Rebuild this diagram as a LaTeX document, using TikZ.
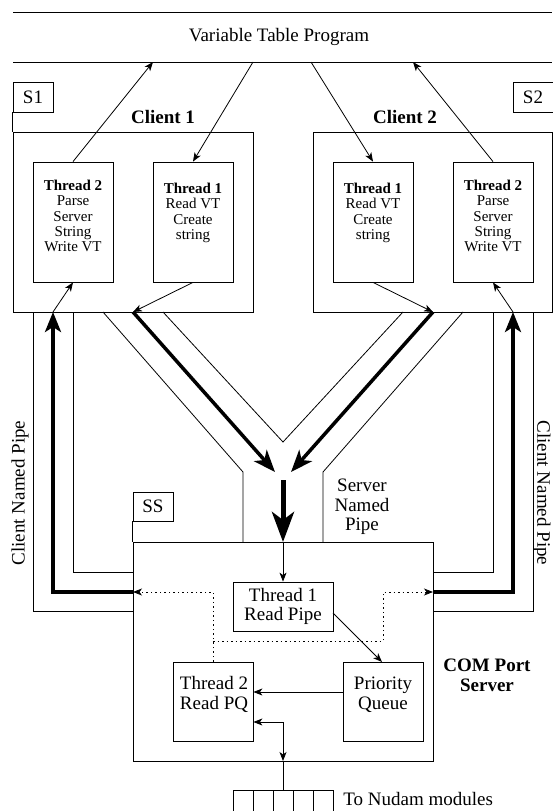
\documentclass[tikz,border=0pt]{standalone}
\usepackage{fontspec}
\setmainfont{Liberation Serif}
\usetikzlibrary{arrows.meta}
\begin{document}
\begin{tikzpicture}[x=1pt,y=-1pt,
  line width=0.8pt,
  box/.style={draw, line width=0.8pt, inner sep=0pt},
  txt/.style={inner sep=0pt, align=center, font=\fontsize{19}{19.5}\selectfont},
  btxt/.style={inner sep=0pt, align=center, font=\fontsize{19}{20}\selectfont\bfseries},
  ttxt/.style={inner sep=0pt, align=center, font=\fontsize{15}{15.3}\selectfont},
  tarrow/.style={-{Stealth[length=9pt,width=7pt,inset=2.5pt]}, line width=0.8pt},
  darrow/.style={{Stealth[length=9pt,width=7pt,inset=2.5pt]}-{Stealth[length=9pt,width=7pt,inset=2.5pt]}, line width=0.8pt},
  diagthick/.style={-{Stealth[length=22pt,width=17pt,inset=6pt]}, line width=3.5pt},
  pipethick/.style={-{Stealth[length=20pt,width=16pt,inset=5pt]}, line width=3.5pt},
  centerthick/.style={-{Stealth[length=30pt,width=22pt,inset=8pt]}, line width=5pt},
  dotarrow/.style={dash pattern=on 1.5pt off 3pt, -{Stealth[length=9pt,width=7pt,inset=2.5pt]}, line width=0.8pt},
]
\useasboundingbox (0,0) rectangle (552,811);

% Variable Table Program
\coordinate (vtl) at (13,12);
\coordinate (vtr) at (552,12);
\coordinate (vbl) at (13,62);
\coordinate (vbr) at (552,62);
\draw (vtl) -- (vtr);
\draw (vbl) -- (vbr);
\node[txt] (vtp) at (279,37) {Variable Table Program};
\coordinate (vt1) at (153,62);
\coordinate (vt2) at (253,62);
\coordinate (vt3) at (311,62);
\coordinate (vt4) at (413,62);

% S1 / S2 tabs
\node[box, minimum width=40pt, minimum height=30pt, font=\fontsize{19}{20}\selectfont] (s1) at (33,97) {S1};
\node[box, minimum width=40pt, minimum height=30pt, font=\fontsize{19}{20}\selectfont] (s2) at (533,97) {S2};

% Client boxes
\node[box, minimum width=240pt, minimum height=180pt] (c1) at (133,222) {};
\node[box, minimum width=239pt, minimum height=180pt] (c2) at (432.5,222) {};
\draw (s1.south west) -- (c1.north west);
\node[btxt] (c1lab) at (163,117) {Client 1};
\node[btxt] (c2lab) at (405,117) {Client 2};

% Client threads
\node[box, minimum width=80pt, minimum height=120pt] (c1t2) at (73,222) {};
\node[box, minimum width=80pt, minimum height=120pt] (c1t1) at (193,222) {};
\node[box, minimum width=80pt, minimum height=120pt] (c2t1) at (373,222) {};
\node[box, minimum width=80pt, minimum height=120pt] (c2t2) at (493,222) {};
\node[ttxt] (c1t2txt) at (73,216) {\textbf{Thread 2}\\Parse\\Server\\String\\Write VT};
\node[ttxt] (c1t1txt) at (193,213) {\textbf{Thread 1}\\Read VT\\Create\\string};
\node[ttxt] (c2t1txt) at (373,213) {\textbf{Thread 1}\\Read VT\\Create\\string};
\node[ttxt] (c2t2txt) at (493,216) {\textbf{Thread 2}\\Parse\\Server\\String\\Write VT};

% Client <-> Variable table
\draw[tarrow] (c1t2.north) -- (vt1);
\draw[tarrow] (vt2) -- (c1t1.north);
\draw[tarrow] (vt3) -- (c2t1.north);
\draw[tarrow] (c2t2.north) -- (vt4);

% Thread1 -> pipe entry
\coordinate (c1out) at (133,312);
\coordinate (c2out) at (433,312);
\draw[tarrow] (c1t1.south) -- (c1out);
\draw[tarrow] (c2t1.south) -- (c2out);

% Server named pipe (Y shape)
\coordinate (p1a) at (103,312);
\coordinate (p1b) at (243,472);
\coordinate (p1c) at (243,542);
\coordinate (p2a) at (163,312);
\coordinate (p2b) at (283,442);
\coordinate (p2c) at (403,312);
\coordinate (p3a) at (463,312);
\coordinate (p3b) at (323,472);
\coordinate (p3c) at (323,542);
\draw (p1a) -- (p1b) -- (p1c);
\draw (p2a) -- (p2b) -- (p2c);
\draw (p3a) -- (p3b) -- (p3c);

\coordinate (m1) at (275,472);
\coordinate (m2) at (291,472);
\coordinate (m3) at (283,480);
\coordinate (m4) at (283,542);
\draw[diagthick] (c1out) -- (m1);
\draw[diagthick] (c2out) -- (m2);
\draw[centerthick] (m3) -- (m4);

\node[txt] (snp) at (362,507) {Server\\Named\\Pipe};

% Server
\node[box, minimum width=300pt, minimum height=219pt] (srv) at (283,651.5) {};
\node[box, minimum width=40pt, minimum height=29pt, font=\fontsize{19}{20}\selectfont] (ss) at (153,506.5) {SS};
\draw (ss.south west) -- (srv.north west);
\node[btxt] (comlab) at (487,675) {COM Port\\Server};

\node[box, minimum width=100pt, minimum height=49pt] (rp) at (283,606.5) {};
\node[txt] (rptxt) at (283,606.5) {Thread 1\\Read Pipe};
\node[box, minimum width=80pt, minimum height=79pt] (rpq) at (213,701.5) {};
\node[txt] (rpqtxt) at (214,694.5) {Thread 2\\Read PQ};
\node[box, minimum width=80pt, minimum height=79pt] (pq) at (383,701.5) {};
\node[txt] (pqtxt) at (383,694.5) {Priority\\Queue};

\draw[tarrow] (m4) -- (rp.north);
\coordinate (rpo) at (333,613);
\draw[tarrow] (rpo) -- (382,662);
\draw[tarrow] (pq.west |- 0,692) -- (rpq.east |- 0,692);
\coordinate (bj) at (283,722);
\coordinate (sb) at (283,761);
\draw[darrow] (rpq.east |- bj) -- (bj) -- (sb);

% dotted lines
\coordinate (dl) at (133,592);
\coordinate (dr) at (433,592);
\draw[dotarrow] (rpq.north) -- (213,592) -- (dl);
\draw[dotarrow] (213,641) -- (383,641) -- (383,592) -- (dr);

% Client named pipes
\draw (33,312) -- (33,611) -- (133,611);
\draw (73,312) -- (73,572) -- (133,572);
\coordinate (lp) at (53,312);
\draw[pipethick] (dl) -- (53,592) -- (lp);
\draw[tarrow] (lp) -- (c1t2.south);

\draw (533,312) -- (533,611) -- (433,611);
\draw (493,312) -- (493,572) -- (433,572);
\coordinate (rpp) at (513,312);
\draw[pipethick] (dr) -- (513,592) -- (rpp);
\draw[tarrow] (rpp) -- (c2t2.south);

\node[txt, rotate=90] (cnpl) at (20,493) {Client Named Pipe};
\node[txt, rotate=-90] (cnpr) at (542,493) {Client Named Pipe};

% Nudam module strip
\coordinate (mt) at (283,790);
\draw (sb) -- (mt);
\draw (233,812) -- (233,790) -- (333,790) -- (333,812);
\foreach \xx in {253,273,293,313} { \draw (\xx,790) -- (\xx,812); }
\node[txt, anchor=west] (nud) at (343,799) {To Nudam modules};
\end{tikzpicture}
\end{document}
